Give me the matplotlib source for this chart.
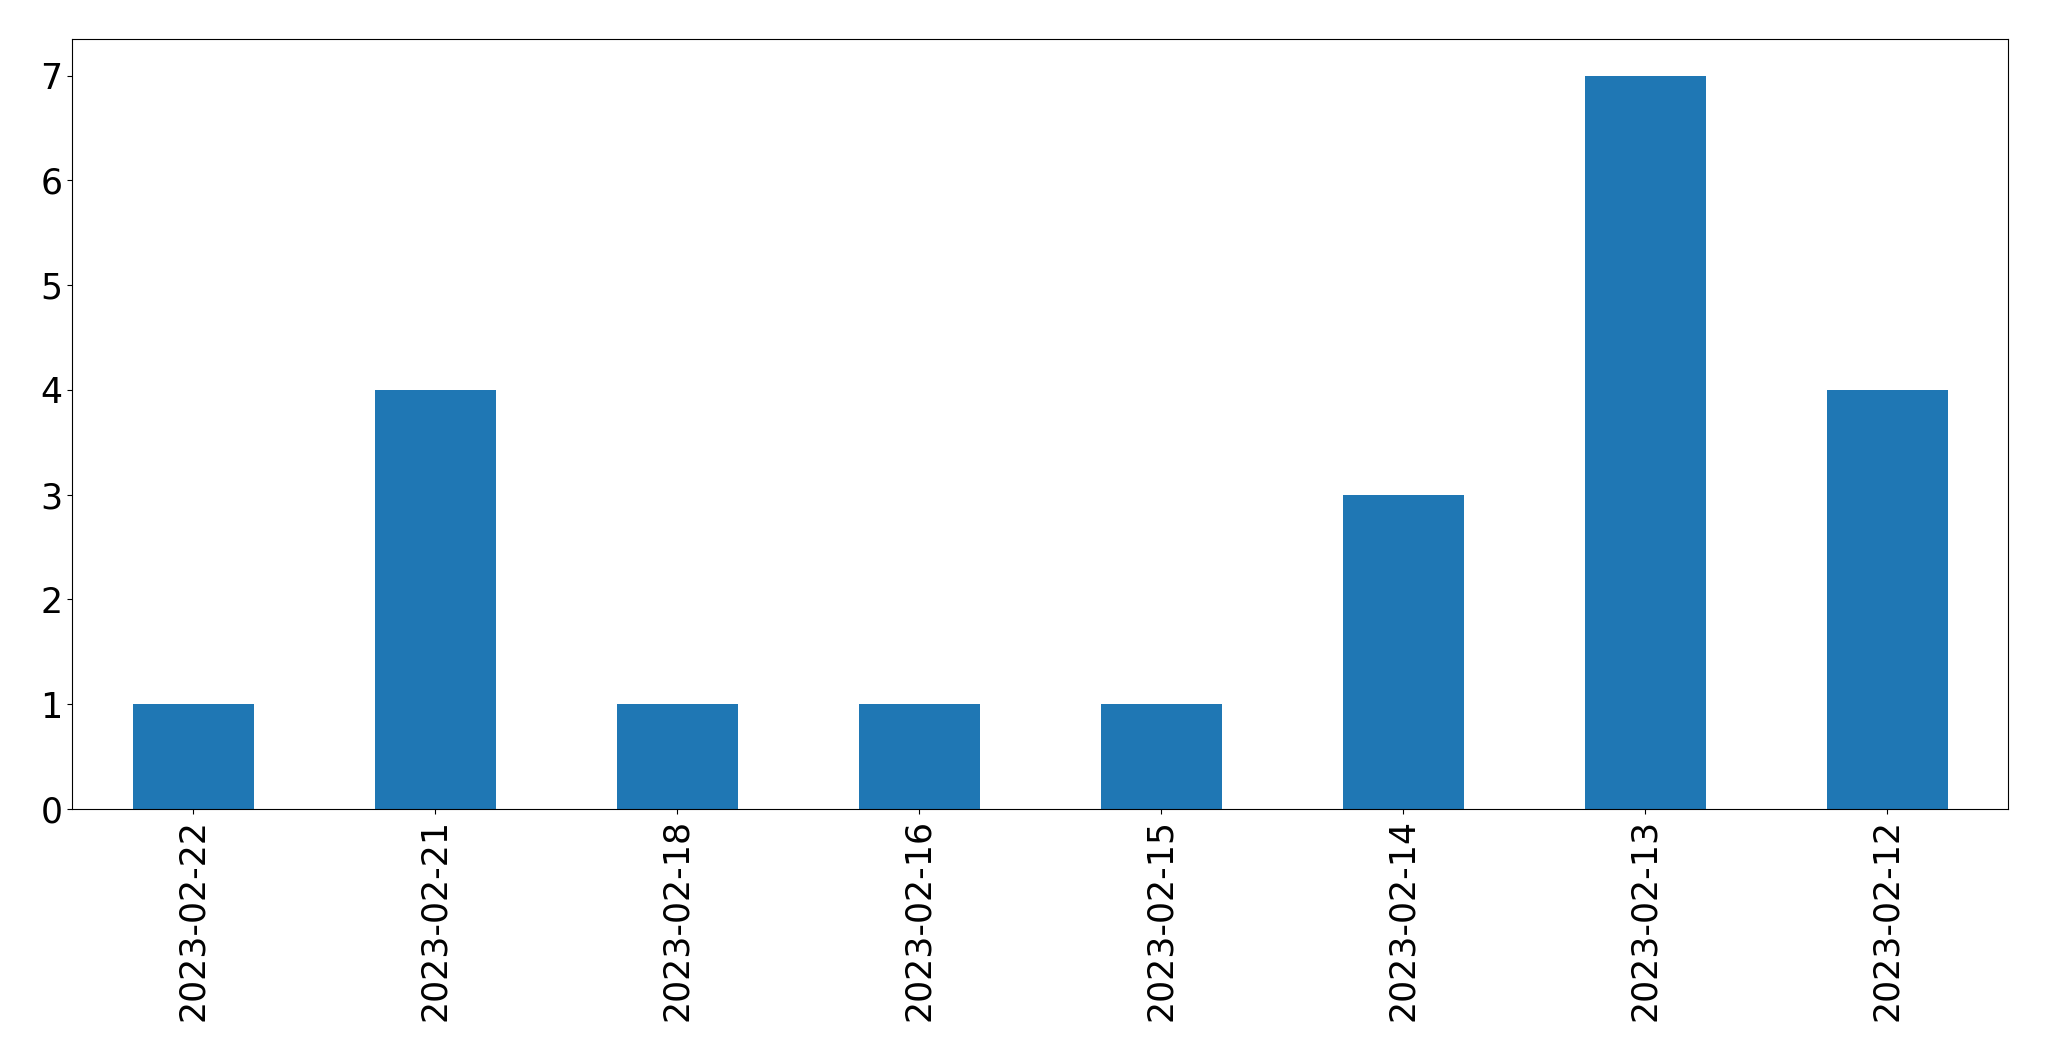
import pandas as pd
import matplotlib
matplotlib.use("Agg")
from matplotlib import pyplot as plt

dates = ["2023-02-22", "2023-02-21", "2023-02-18", "2023-02-16",
         "2023-02-15", "2023-02-14", "2023-02-13", "2023-02-12"]
counts = [1, 4, 1, 1, 1, 3, 7, 4]

s = pd.Series(counts, index=dates)

fig = plt.figure(figsize=(20.49, 10.61), dpi=100)
ax = fig.add_axes([72 / 2049, 1 - 809 / 1061, (2008 - 72) / 2049, (809 - 39) / 1061])
s.plot(kind="bar", ax=ax, color="#1f77b4")
ax.tick_params(labelsize=25)

fig.savefig("out.png", dpi=100)
